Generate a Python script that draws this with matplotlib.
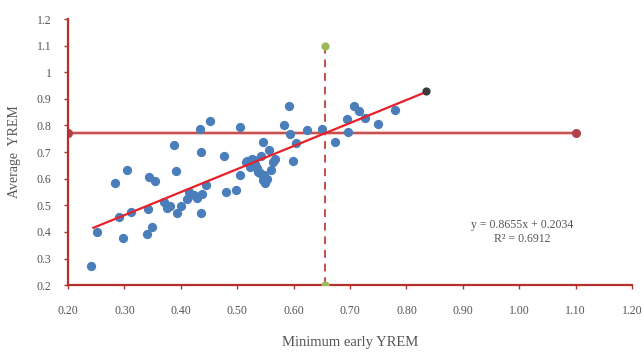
import matplotlib
matplotlib.use("Agg")
import matplotlib.pyplot as plt
import numpy as np

# scatter data
min_early = [0.241, 0.252, 0.284, 0.291, 0.297, 0.305, 0.311, 0.340, 0.344, 0.349,
             0.355, 0.342, 0.371, 0.376, 0.380, 0.387, 0.391, 0.394, 0.400, 0.411,
             0.415, 0.423, 0.429, 0.434, 0.435, 0.436, 0.438, 0.444, 0.452, 0.476,
             0.480, 0.498, 0.505, 0.505, 0.516, 0.522, 0.527, 0.532, 0.537, 0.542,
             0.545, 0.547, 0.553, 0.556, 0.560, 0.564, 0.567, 0.583, 0.591, 0.594,
             0.599, 0.604, 0.624, 0.651, 0.673, 0.695, 0.697, 0.707, 0.715, 0.726,
             0.749, 0.780, 0.550, 0.545, 0.540, 0.535, 0.525, 0.518, 0.530]
avg_yrem = [0.273, 0.401, 0.584, 0.457, 0.376, 0.631, 0.476, 0.391, 0.606, 0.420,
            0.590, 0.486, 0.511, 0.488, 0.498, 0.727, 0.627, 0.470, 0.498, 0.525,
            0.550, 0.538, 0.528, 0.786, 0.702, 0.470, 0.544, 0.575, 0.817, 0.687,
            0.550, 0.559, 0.793, 0.615, 0.662, 0.643, 0.675, 0.656, 0.625, 0.687,
            0.737, 0.612, 0.600, 0.706, 0.631, 0.662, 0.675, 0.801, 0.873, 0.768,
            0.668, 0.734, 0.783, 0.786, 0.739, 0.824, 0.776, 0.873, 0.855, 0.827,
            0.807, 0.857, 0.585, 0.595, 0.620, 0.640, 0.660, 0.665, 0.670]

end_point = (0.835, 0.930)
hline_x = [0.20, 1.10]
hline_y = [0.771, 0.771]
vline_x = [0.656, 0.656]
vline_y = [0.20, 1.10]

slope, intercept = 0.8655, 0.2034
fit_x = [0.245, 0.835]

x_ticks = [0.20, 0.30, 0.40, 0.50, 0.60, 0.70, 0.80, 0.90, 1.00, 1.10, 1.20]
y_ticks = [0.2, 0.3, 0.4, 0.5, 0.6, 0.7, 0.8, 0.9, 1.0, 1.1, 1.2]
y_labels = ["0.2", "0.3", "0.4", "0.5", "0.6", "0.7", "0.8", "0.9", "1", "1.1", "1.2"]

SERIF = "Liberation Serif"
TXT = "#555555"
AXIS_RED = "#B5302B"

fig = plt.figure(figsize=(6.44, 3.52), dpi=100)
ax = fig.add_axes([0.1056, 0.190, 0.876, 0.756])

ax.plot(hline_x, hline_y, color="#F6C4C4", lw=3.0, solid_capstyle="butt", zorder=2)
ax.plot(hline_x, hline_y, color="#C0504D", lw=1.4, marker="o", ms=5.5,
        mfc="#B0404A", mec="#B0404A", zorder=2)
ax.plot(vline_x, vline_y, color="#C0504D", lw=1.4, ls=(0, (4, 3)), zorder=2)
ax.scatter(vline_x, vline_y, s=24, color="#9BBB59", zorder=4)

ax.scatter(min_early, avg_yrem, s=32, color="#4A7EBB", zorder=3)

fx = np.array(fit_x)
ax.plot(fx, slope * fx + intercept, color="#E8202A", lw=1.6, zorder=4)
ax.scatter([end_point[0]], [end_point[1]], s=24, color="#3A3A3A", zorder=5)

ax.text(1.005, 0.40, "y = 0.8655x + 0.2034\nR² = 0.6912", ha="center", va="center",
        fontsize=8.5, family=SERIF, color=TXT, linespacing=1.25)

ax.set_xlim(0.20, 1.20)
ax.set_ylim(0.20, 1.20)
ax.set_xticks(x_ticks)
ax.set_xticklabels([f"{v:.2f}" for v in x_ticks])
ax.set_yticks(y_ticks)
ax.set_yticklabels(y_labels)

for sp in ("top", "right"):
    ax.spines[sp].set_visible(False)
for sp in ("left", "bottom"):
    ax.spines[sp].set_color(AXIS_RED)
    ax.spines[sp].set_linewidth(1.6)

ax.tick_params(axis="both", colors=AXIS_RED, labelcolor=TXT, labelsize=8.5,
               direction="out", length=3, width=1)
ax.tick_params(axis="x", pad=11)
ax.tick_params(axis="y", pad=9)
for lab in ax.get_xticklabels() + ax.get_yticklabels():
    lab.set_family(SERIF)

ax.set_xlabel("Minimum early YREM", fontsize=10.5, family=SERIF, color=TXT, labelpad=14)
ax.set_ylabel("Average  YREM", fontsize=10, family=SERIF, color=TXT, labelpad=11)

fig.savefig("out.png", dpi=100)
